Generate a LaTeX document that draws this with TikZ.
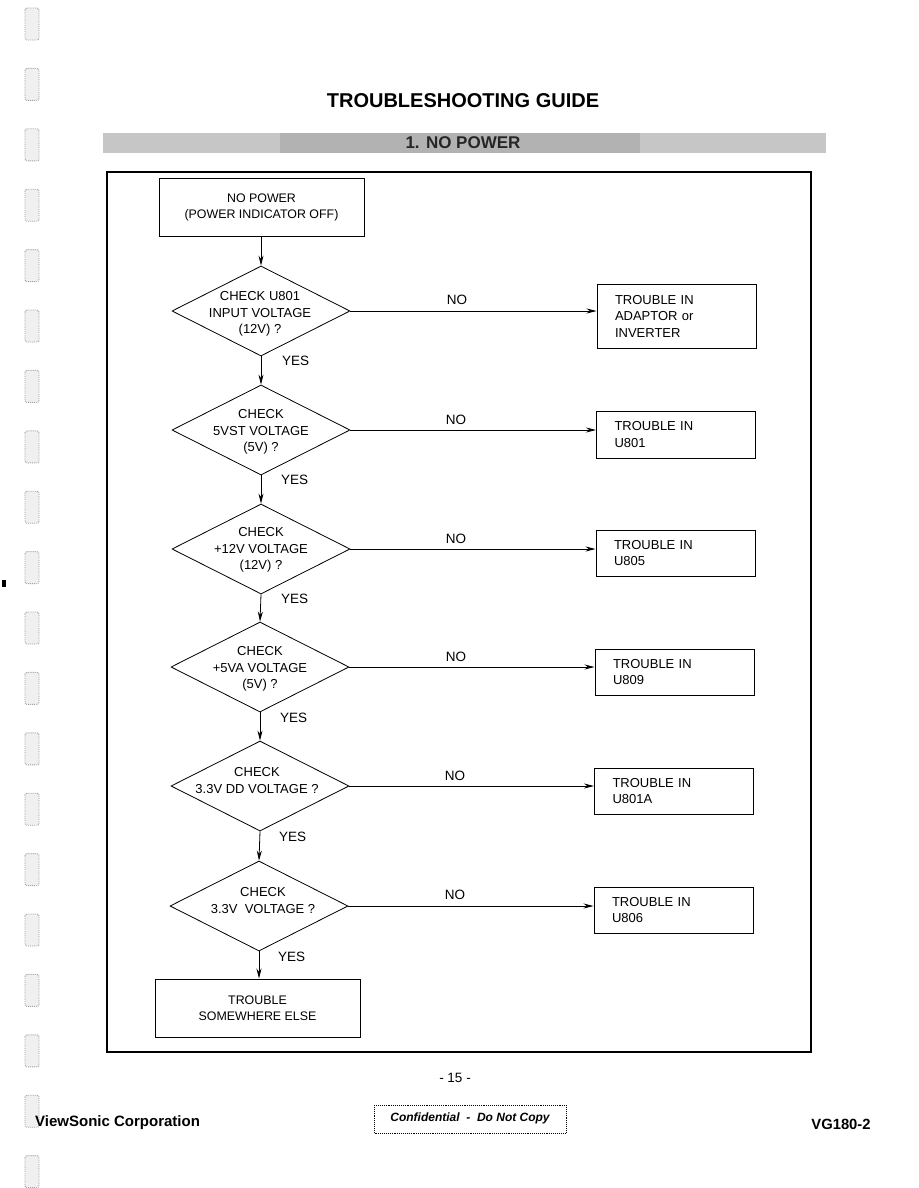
\documentclass[tikz,border=0pt]{standalone}
\usepackage{fontspec}
\setmainfont{Liberation Sans}
\usetikzlibrary{shapes.geometric,arrows.meta}
\newcommand\flowfont{\fontsize{13}{16.5}\selectfont}
\newcommand\startfont{\fontsize{12.4}{16.5}\selectfont}
\newcommand\labfont{\fontsize{13.5}{16}\selectfont}
\begin{document}
\begin{tikzpicture}[x=1pt,y=-1pt,
  startbox/.style={draw, line width=1pt, minimum width=205pt, minimum height=58pt, align=center, font=\startfont, inner sep=0pt},
  rbox/.style={draw, line width=1pt, minimum width=159pt, text width=123pt, inner xsep=18pt, inner ysep=0pt, align=left, font=\flowfont},
  dia/.style={draw, diamond, line width=0.8pt, minimum width=178pt, minimum height=90pt, inner sep=0pt},
  dtext/.style={align=center, font=\flowfont, inner sep=0pt},
  lab/.style={font=\labfont, inner sep=0pt},
  arr/.style={-{Stealth[length=10pt,width=5pt]}, line width=0.8pt},
  hole/.style={draw=gray!75, fill=gray!12, densely dotted, rounded corners=2pt, line width=0.9pt}
]
\useasboundingbox (0,0) rectangle (918,1188);
\fill[white] (0,0) rectangle (918,1188);

% binder holes (scan)
\foreach \k in {0,...,19}{
  \draw[hole] (25,{24+60.4*\k-16}) rectangle (39,{24+60.4*\k+16});
}
\fill[black] (2,580) rectangle (6,587);

% title and banner
\node[font=\fontsize{20}{22}\selectfont\bfseries, inner sep=0pt] (title) at (463,101) {TROUBLESHOOTING GUIDE};
\fill[gray!45] (103,133) rectangle (826,153);
\fill[gray!60] (280,133) rectangle (640,153);
\node[font=\fontsize{17}{19}\selectfont\bfseries, inner sep=0pt, text=black!85] (banner) at (463,143) {1. NO POWER};

% frame
\draw[line width=1.2pt] (107,172) rectangle (811,1052);

% main column
\node[startbox] (start) at (261.5,207.5) {NO POWER\\(POWER INDICATOR OFF)};
\node[dia] (d1) at (261,311) {};
\node[dia] (d2) at (261,430) {};
\node[dia] (d3) at (261,549) {};
\node[dia] (d4) at (260,667) {};
\node[dia] (d5) at (260,786) {};
\node[dia] (d6) at (259,906) {};
\node[startbox] (end) at (257.5,1008) {TROUBLE\\SOMEWHERE ELSE};

\node[dtext] (t1) at (260,314) {CHECK U801\\INPUT VOLTAGE\\(12V) ?};
\node[dtext] (t2) at (261,432) {CHECK\\5VST VOLTAGE\\(5V) ?};
\node[dtext] (t3) at (261,550) {CHECK\\+12V VOLTAGE\\(12V) ?};
\node[dtext] (t4) at (260,669) {CHECK\\+5VA VOLTAGE\\(5V) ?};
\node[dtext] (t5) at (257,780.5) {CHECK\\3.3V DD VOLTAGE ?};
\node[dtext] (t6) at (263,900.5) {CHECK\\3.3V\ \ VOLTAGE ?};

% right boxes
\node[rbox, minimum height=64pt] (r1) at (676.5,316) {TROUBLE IN\\ADAPTOR or\\INVERTER};
\node[rbox, minimum height=47pt] (r2) at (676,434.5) {TROUBLE IN\\U801};
\node[rbox, minimum height=46pt] (r3) at (675.5,553) {TROUBLE IN\\U805};
\node[rbox, minimum height=46pt] (r4) at (674.5,672) {TROUBLE IN\\U809};
\node[rbox, minimum height=46pt] (r5) at (674,791) {TROUBLE IN\\U801A};
\node[rbox, minimum height=46pt] (r6) at (673.5,910) {TROUBLE IN\\U806};

% vertical connectors
\draw[arr] (start.south -| d1.north) -- (d1.north);
\draw[arr] (d1.south) -- (d2.north);
\draw[arr] (d2.south) -- (d3.north);
\draw[arr] (d3.south) -- (d4.north);
\draw[arr] (d4.south) -- (d5.north);
\draw[arr] (d5.south) -- (d6.north);
\draw[arr] (d6.south) -- (d6.south |- end.north);

% horizontal connectors
\foreach \i in {1,...,6}{
  \draw[arr] (d\i.east) -- (d\i.east -| r\i.west);
}

% labels
\node[lab] (n1) at (457,300) {NO};
\node[lab] (n2) at (456,420) {NO};
\node[lab] (n3) at (456,539) {NO};
\node[lab] (n4) at (456,657) {NO};
\node[lab] (n5) at (455,776) {NO};
\node[lab] (n6) at (455,895) {NO};
\node[lab, anchor=west] (y1) at (282,361) {YES};
\node[lab, anchor=west] (y2) at (281,480) {YES};
\node[lab, anchor=west] (y3) at (281,599) {YES};
\node[lab, anchor=west] (y4) at (280,718) {YES};
\node[lab, anchor=west] (y5) at (279,837) {YES};
\node[lab, anchor=west] (y6) at (278,957) {YES};

% footer
\node[lab] (page) at (455,1078) {- 15 -};
\node[font=\fontsize{15}{17}\selectfont\bfseries, inner sep=0pt, anchor=west] (vs) at (35,1123) {ViewSonic Corporation};
\node[font=\fontsize{14.8}{17}\selectfont\bfseries, inner sep=0pt] (model) at (841,1124) {VG180-2};
\draw[densely dotted, line width=0.9pt] (374,1105) rectangle (566,1133);
\node[font=\fontsize{12}{14}\selectfont\bfseries\itshape, inner sep=0pt] (conf) at (470,1118) {Confidential\ \ -\ \ Do Not Copy};
\end{tikzpicture}
\end{document}
